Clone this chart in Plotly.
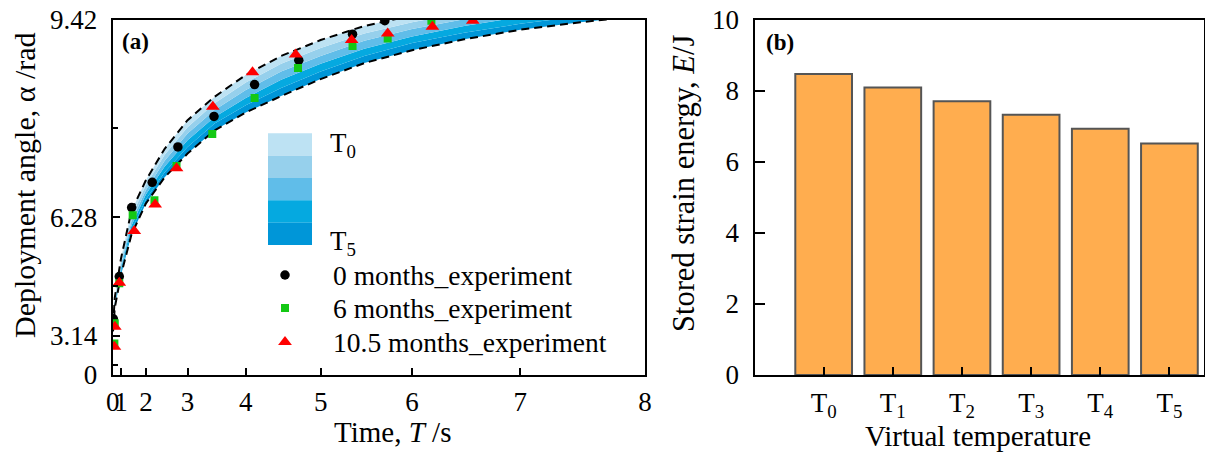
import numpy as np
import plotly.graph_objects as go

# ---------------- data: panel (a) ----------------
# model curves (virtual temperatures T0..T5), time grid in s, angle in rad
curve_time = [0.2, 0.5, 1.0, 1.5, 2.0, 2.5, 3.0, 3.5, 4.0, 4.5, 5.0, 5.5, 6.0, 6.5, 7.0, 7.5, 8.0]
curve_T0 = [3.50, 4.40, 5.40, 6.40, 6.98, 7.52, 7.98, 8.34, 8.66, 8.93, 9.15, 9.34, 9.48, 9.60, 9.70, 9.79, 9.87]
curve_T1 = [3.46, 4.34, 5.32, 6.30, 6.89, 7.42, 7.87, 8.24, 8.55, 8.82, 9.04, 9.24, 9.39, 9.52, 9.62, 9.71, 9.79]
curve_T2 = [3.42, 4.28, 5.24, 6.20, 6.80, 7.32, 7.77, 8.14, 8.44, 8.71, 8.93, 9.14, 9.30, 9.43, 9.54, 9.63, 9.71]
curve_T3 = [3.38, 4.22, 5.16, 6.11, 6.72, 7.22, 7.66, 8.03, 8.32, 8.59, 8.82, 9.03, 9.20, 9.34, 9.46, 9.55, 9.63]
curve_T4 = [3.34, 4.16, 5.08, 6.01, 6.63, 7.12, 7.55, 7.93, 8.21, 8.47, 8.71, 8.93, 9.11, 9.25, 9.37, 9.47, 9.55]
curve_T5 = [3.30, 4.10, 5.00, 5.92, 6.55, 7.03, 7.44, 7.82, 8.10, 8.35, 8.60, 8.83, 9.01, 9.16, 9.29, 9.39, 9.48]

# experiments
exp0_t = [0.27, 0.89, 1.51, 2.18, 2.80, 3.49, 4.13, 4.73, 5.37, 5.72]
exp0_a = [3.75, 4.96, 6.47, 6.94, 7.55, 8.04, 8.52, 8.87, 9.23, 9.41]
exp6_t = [0.45, 0.5, 0.89, 1.55, 2.24, 2.77, 3.46, 4.13, 4.72, 5.37, 5.75, 6.19]
exp6_a = [2.81, 3.60, 4.79, 6.32, 6.61, 7.23, 7.76, 8.32, 8.76, 9.07, 9.17, 9.41]
exp10_t = [0.45, 0.5, 0.89, 1.61, 2.26, 2.77, 3.47, 4.10, 4.69, 5.36, 5.75, 6.20, 6.58]
exp10_a = [2.66, 3.47, 4.80, 6.00, 6.53, 7.19, 8.19, 8.70, 8.95, 9.15, 9.24, 9.33, 9.41]

series_names = ["0 months_experiment", "6 months_experiment", "10.5 months_experiment"]

x_ticks = [0, 1, 2, 3, 4, 5, 6, 7, 8]
y_ticks = [0, 3.14, 6.28, 9.42]
y_minor = [1.57, 4.71, 7.85]

# ---------------- data: panel (b) ----------------
temps = ["T<sub>0</sub>", "T<sub>1</sub>", "T<sub>2</sub>", "T<sub>3</sub>", "T<sub>4</sub>", "T<sub>5</sub>"]
energy = [8.48, 8.10, 7.71, 7.33, 6.94, 6.52]

# ---------------- styling ----------------
FONT = "Liberation Serif, Times New Roman, serif"
W, H = 1205, 460
A_L, A_R, A_T, A_B = 112.7, 645.0, 20.0, 375.0   # panel (a) frame in px
band_colors = ["#bde2f3", "#96d0ec", "#60bde9", "#05a9e0", "#0096d8"]  # T0-T1 ... T4-T5
marker_styles = [dict(symbol="circle", size=9.5, color="black", opacity=1),
                 dict(symbol="square", size=8, color="#14c814", opacity=1),
                 dict(symbol="triangle-up", size=12, color="#ff0000", opacity=1)]


def px_x(p):
    return p / W


def px_y(p):
    return 1 - p / H


sq = lambda v: np.asarray(v, dtype=float) ** 2  # quadratic axis scale

fig = go.Figure()

t2 = sq(curve_time)
curves = [curve_T0, curve_T1, curve_T2, curve_T3, curve_T4, curve_T5]
fig.add_trace(go.Scatter(x=t2, y=sq(curves[5]), mode="lines", line=dict(width=0),
                         showlegend=False, hoverinfo="skip", xaxis="x", yaxis="y"))
for i in range(4, -1, -1):
    fig.add_trace(go.Scatter(x=t2, y=sq(curves[i]), mode="lines", line=dict(width=0),
                             fill="tonexty", fillcolor=band_colors[i],
                             showlegend=False, hoverinfo="skip", xaxis="x", yaxis="y"))
for c in (curves[0], curves[5]):
    fig.add_trace(go.Scatter(x=t2, y=sq(c), mode="lines",
                             line=dict(color="black", width=2, dash="8px,5px"),
                             showlegend=False, hoverinfo="skip", xaxis="x", yaxis="y"))

for (tt, aa), name, ms in zip([(exp0_t, exp0_a), (exp6_t, exp6_a), (exp10_t, exp10_a)],
                              series_names, marker_styles):
    fig.add_trace(go.Scatter(x=sq(tt), y=sq(aa), mode="markers", name=name,
                             marker=ms, showlegend=False, xaxis="x", yaxis="y"))

fig.add_trace(go.Bar(x=temps, y=energy, width=0.82, showlegend=False,
                     marker=dict(color="#ffad4f", line=dict(color="#555555", width=2)),
                     xaxis="x2", yaxis="y2"))

# legend key symbols on an overlay axis (pixel units) inside panel (a)
leg_rows = [275, 308, 342]
for ms, row in zip(marker_styles, leg_rows):
    fig.add_trace(go.Scatter(x=[285], y=[row], mode="markers", showlegend=False, hoverinfo="skip",
                             marker=ms, xaxis="x3", yaxis="y3"))

axis_common = dict(showline=True, mirror=True, linecolor="black", linewidth=2,
                   showgrid=False, zeroline=False, ticks="inside", tickwidth=2, automargin=False,
                   tickcolor="black", tickfont=dict(family=FONT, size=27, color="black"))

fig.update_layout(
    width=W, height=H,
    margin=dict(l=0, r=0, t=0, b=0),
    paper_bgcolor="white", plot_bgcolor="white",
    font=dict(family=FONT, color="black"),
    showlegend=False,
    xaxis=dict(axis_common, domain=[px_x(A_L), px_x(A_R)], anchor="y",
               range=[0, 64], tickmode="array", tickvals=sq(x_ticks).tolist(),
               ticktext=[str(v) for v in x_ticks], ticklen=7, tickangle=0,
               ticklabelstandoff=2),
    yaxis=dict(axis_common, domain=[px_y(A_B), px_y(A_T)], anchor="x",
               range=[0, 9.42 ** 2], tickmode="array", tickvals=sq(y_ticks).tolist(),
               ticktext=[f"{v:g}" if v else "0" for v in y_ticks], ticklen=7,
               ticklabelstandoff=8,
               minor=dict(tickmode="array", tickvals=sq(y_minor).tolist(), ticklen=5,
                          tickwidth=2, ticks="inside", tickcolor="black")),
    xaxis2=dict(axis_common, domain=[px_x(754.5), px_x(1204)], anchor="y2",
                range=[-1, 5.5], type="category", ticklen=8, tickangle=0,
                ticklabelstandoff=3),
    yaxis2=dict(axis_common, domain=[px_y(A_B), px_y(A_T)], anchor="x2",
                range=[0, 10], tickmode="array", tickvals=[0, 2, 4, 6, 8, 10],
                ticklen=10, ticklabelstandoff=8),
    xaxis3=dict(overlaying="x", range=[A_L, A_R], visible=False, fixedrange=True, anchor="y3"),
    yaxis3=dict(overlaying="y", range=[A_B, A_T], visible=False, fixedrange=True, anchor="x3"),
)

# colour-scale legend blocks (T0 .. T5)
top, bottom = 133.3, 245.0
step = (bottom - top) / 5
for i, col in enumerate(band_colors):
    fig.add_shape(type="rect", xref="paper", yref="paper",
                  x0=px_x(268), x1=px_x(312), y0=px_y(top + (i + 1) * step), y1=px_y(top + i * step),
                  fillcolor=col, line=dict(width=0), layer="above")

ann = []
for name, row in zip(series_names, leg_rows):
    ann.append(dict(text=name, x=px_x(331), y=px_y(row), xanchor="left", yanchor="middle",
                    font=dict(size=27.5)))
ann.append(dict(text="T<sub>0</sub>", x=px_x(328), y=px_y(145), xanchor="left", yanchor="middle",
                font=dict(size=27)))
ann.append(dict(text="T<sub>5</sub>", x=px_x(328), y=px_y(243), xanchor="left", yanchor="middle",
                font=dict(size=27)))
ann.append(dict(text="<b>(a)</b>", x=px_x(120), y=px_y(41), xanchor="left", yanchor="middle",
                font=dict(size=23)))
ann.append(dict(text="<b>(b)</b>", x=px_x(764), y=px_y(42), xanchor="left", yanchor="middle",
                font=dict(size=23)))
ann.append(dict(text="Deployment angle, α /rad", x=px_x(24), y=px_y(185), textangle=-90,
                xanchor="center", yanchor="middle", font=dict(size=30)))
ann.append(dict(text="Time, <i>T</i> /s", x=px_x(392), y=px_y(432),
                xanchor="center", yanchor="middle", font=dict(size=29)))
ann.append(dict(text="Stored strain energy, <i>E</i>/J", x=px_x(684), y=px_y(184), textangle=-90,
                xanchor="center", yanchor="middle", font=dict(size=30.5)))
ann.append(dict(text="Virtual temperature", x=px_x(978), y=px_y(436),
                xanchor="center", yanchor="middle", font=dict(size=29)))
for a in ann:
    a.update(xref="paper", yref="paper", showarrow=False)
    a["font"].update(family=FONT, color="black")
fig.update_layout(annotations=ann)

fig.write_html("out.html", config={"displayModeBar": False},
               post_script="document.body.style.margin='0px';document.body.style.overflow='hidden';")
